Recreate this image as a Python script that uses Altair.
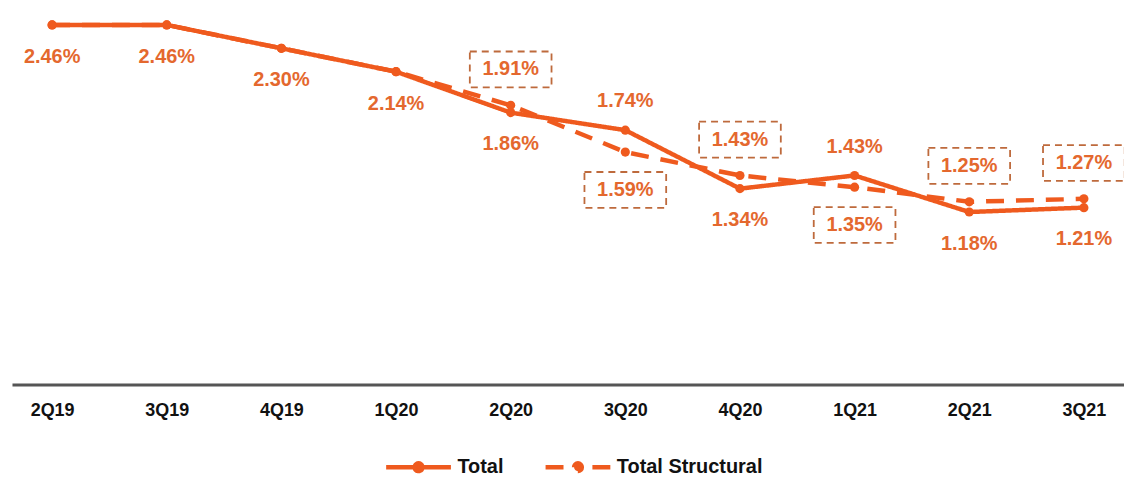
import altair as alt
import pandas as pd

quarters = ["2Q19", "3Q19", "4Q19", "1Q20", "2Q20", "3Q20", "4Q20", "1Q21", "2Q21", "3Q21"]
total = [2.46, 2.46, 2.30, 2.14, 1.86, 1.74, 1.34, 1.43, 1.18, 1.21]
structural = [2.46, 2.46, 2.30, 2.14, 1.91, 1.59, 1.43, 1.35, 1.25, 1.27]
total_label_side = ["below", "below", "below", "below", "below", "above", "below", "above", "below", "below"]
structural_label_side = ["", "", "", "", "above", "below", "above", "below", "above", "above"]

LINE = "#EF5A1E"
TEXT = "#E4682E"
BOX = "#BE6A3C"
FONT = "Liberation Sans"

rows = []
for i, q in enumerate(quarters):
    rows.append({"quarter": q, "series": "Total", "value": total[i], "side": total_label_side[i],
                 "label": f"{total[i]:.2f}%"})
for i, q in enumerate(quarters):
    rows.append({"quarter": q, "series": "Total Structural", "value": structural[i],
                 "side": structural_label_side[i], "label": f"{structural[i]:.2f}%"})
df = pd.DataFrame(rows)

x = alt.X("quarter:N", sort=quarters, title=None,
          scale=alt.Scale(type="point", padding=0.35),
          axis=alt.Axis(labelAngle=0, labelFont=FONT, labelFontSize=18, labelFontWeight="bold",
                        labelColor="#111111", labelPadding=17, ticks=False, grid=False,
                        domainColor="#555555", domainWidth=3))
y = alt.Y("value:Q", scale=alt.Scale(domain=[0, 2.57], nice=False, zero=True), axis=None)

legend_path = "M-1,0L-0.15,0M1,0L0.15,0M-0.12,0A0.12,0.12 0 1,1 0.12,0A0.12,0.12 0 1,1 -0.12,0Z"
legend_cfg = dict(title=None, orient="none", direction="horizontal",
                  legendX=373, legendY=425,
                  symbolType=legend_path, symbolSize=4225, symbolStrokeWidth=4.5,
                  symbolFillColor=LINE,
                  labelFont=FONT, labelFontSize=20, labelFontWeight="bold",
                  labelColor="#111111", labelOffset=4, columnPadding=32)

base = alt.Chart(df)

lines = base.mark_line(strokeWidth=4.5, strokeCap="butt").encode(
    x=x, y=y,
    color=alt.Color("series:N", scale=alt.Scale(domain=["Total", "Total Structural"], range=[LINE, LINE]),
                    legend=alt.Legend(**legend_cfg)),
    strokeDash=alt.StrokeDash("series:N",
                              scale=alt.Scale(domain=["Total", "Total Structural"], range=[[1, 0], [18, 12]]),
                              legend=alt.Legend(**legend_cfg)),
)

points = base.mark_circle(size=85, opacity=1, color=LINE).encode(x=x, y=y)

def labels(series, side, dy):
    return base.transform_filter(
        (alt.datum.series == series) & (alt.datum.side == side)
    ).mark_text(dy=dy, font=FONT, fontSize=20, fontWeight="bold", color=TEXT).encode(
        x=x, y=y, text="label:N")

r = 41.0
hh = 18.0 / r
def box_path(center):
    c = center / r
    return f"M-1,{c - hh:.3f}L1,{c - hh:.3f}L1,{c + hh:.3f}L-1,{c + hh:.3f}Z"

def boxes(side, center):
    return base.transform_filter(
        (alt.datum.series == "Total Structural") & (alt.datum.side == side)
    ).mark_point(shape=box_path(center), size=(2 * r) ** 2, filled=False, stroke=BOX,
                 strokeWidth=1.8, strokeDash=[7, 5], opacity=1).encode(x=x, y=y)

chart = alt.layer(
    lines, points,
    labels("Total", "below", 32), labels("Total", "above", -29),
    labels("Total Structural", "above", -36), labels("Total Structural", "below", 38),
    boxes("above", -36), boxes("below", 38),
).properties(
    width=1116, height=377,
    autosize=alt.AutoSizeParams(type="none"),
    padding={"left": 4, "top": 0, "right": 0, "bottom": 93},
).configure_view(stroke=None)

chart.save("out.html", embed_options={"renderer": "svg", "actions": False})
